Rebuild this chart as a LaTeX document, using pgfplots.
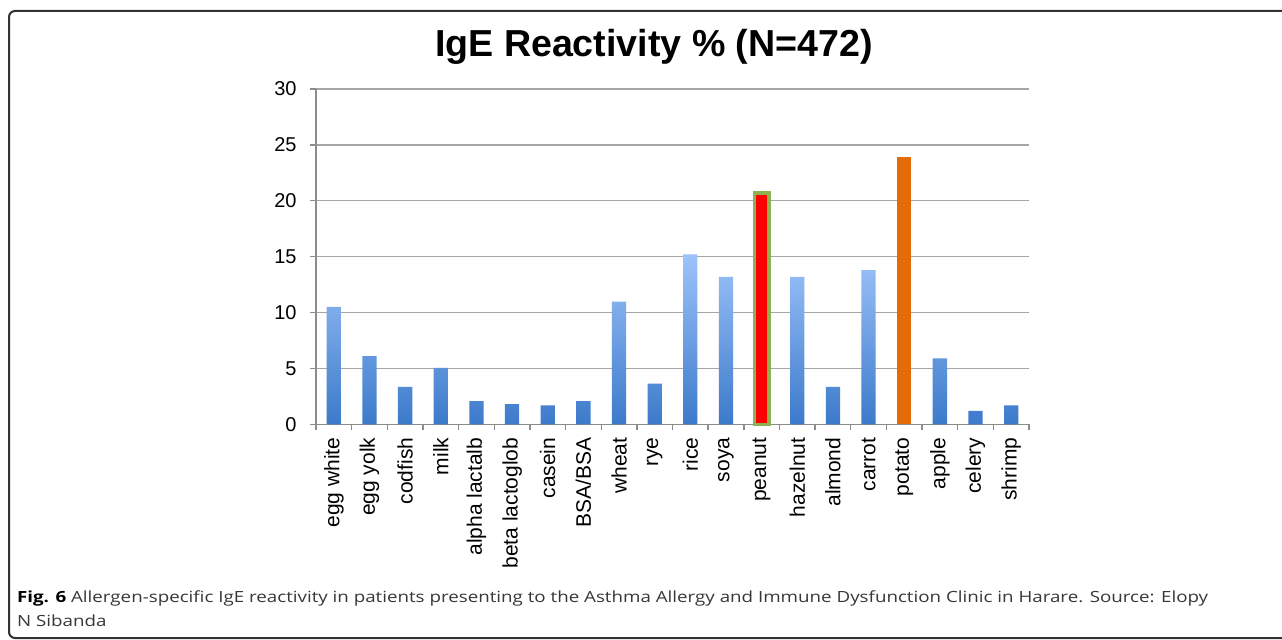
\documentclass[border=0pt]{standalone}
\usepackage{fontspec}
\setmainfont{Liberation Sans}
\newfontfamily\capfont{Open Sans}
\usepackage{pgfplots}
\pgfplotsset{compat=1.18}
\definecolor{bartop}{RGB}{157,195,250}
\definecolor{barbot}{RGB}{60,122,202}
\definecolor{gridc}{RGB}{166,166,166}
\definecolor{axc}{RGB}{140,140,140}
\definecolor{peanutc}{RGB}{255,0,0}
\definecolor{peanutb}{RGB}{141,178,80}
\definecolor{potatoc}{RGB}{227,108,9}
\definecolor{framec}{RGB}{50,50,50}
\definecolor{capc}{RGB}{55,55,55}
\newlength\capw
\newcommand\captext{\capfont\fontsize{7.7}{9}\selectfont\textbf{\color{black}Fig. 6} Allergen-specific IgE reactivity in patients presenting to the Asthma Allergy and Immune Dysfunction Clinic in Harare. Source: Elopy}
\begin{document}
\settowidth{\capw}{\captext}%
\pgfmathsetmacro{\caps}{595.5/\capw}%
\begin{tikzpicture}
\begin{scope}[x=0.5pt,y=0.5pt]
\useasboundingbox (0,0) rectangle (1282,639);
\fill[white] (0,0) rectangle (1282,639);
\draw[framec, line width=1pt, rounded corners=3pt] (9,1) rectangle (1320,628);
\node[anchor=base, font=\bfseries\fontsize{18.8}{22}\selectfont] at (654,582.3) {IgE Reactivity \% (N=472)};
\node[anchor=base west, inner sep=0pt, text=capc] at (16.7,36.3) {\scalebox{\caps}[1]{\captext}};
\node[anchor=base west, inner sep=0pt, text=capc] at (16.7,12.3) {\scalebox{\caps}[1]{\capfont\fontsize{7.7}{9}\selectfont N Sibanda}};
\end{scope}
\begin{axis}[
  at={(158pt,107.35pt)}, anchor=south west,
  scale only axis, width=356.5pt, height=167.65pt,
  xmin=-0.5, xmax=19.5, ymin=0, ymax=30,
  axis lines*=left,
  axis line style={axc, line width=0.7pt},
  ytick={0,5,...,30},
  xtick={0,...,19},
  xticklabels={egg white,egg yolk,codfish,milk,alpha lactalb,beta lactoglob,casein,BSA/BSA,wheat,rye,rice,soya,peanut,hazelnut,almond,carrot,potato,apple,celery,shrimp},
  minor xtick={-0.5,0.5,...,19.5},
  major x tick style={draw=none},
  minor x tick style={axc, line width=0.7pt},
  major y tick style={axc, line width=0.7pt},
  tick align=outside,
  major tick length=3pt, minor tick length=3pt,
  ymajorgrids, grid style={gridc, line width=0.7pt},
  /pgf/number format/assume math mode=true,
  yticklabel style={font=\fontsize{10}{12}\selectfont, text=black, inner sep=0pt, xshift=-6.5pt},
  xticklabel shift=3.5pt,
  xticklabel style={font=\fontsize{10.5}{12}\selectfont, text=black, rotate=90, anchor=east, inner sep=0pt},
  clip=false,
]
\addplot[ybar, bar width=0.4, bar shift=0pt, draw=none, top color=bartop, bottom color=barbot] coordinates {
 (0,10.5) (1,6.1) (2,3.35) (3,5.05) (4,2.08) (5,1.8) (6,1.7) (7,2.08) (8,10.97) (9,3.64) (10,15.2) (11,13.2) (13,13.2) (14,3.35) (15,13.8) (17,5.9) (18,1.2) (19,1.7)
};
\addplot[ybar, bar width=0.4, bar shift=0pt, fill=peanutc, draw=peanutb, line width=1.8pt] coordinates {(12,20.7)};
\addplot[ybar, bar width=0.4, bar shift=0pt, fill=potatoc, draw=none] coordinates {(16,23.9)};
\end{axis}
\end{tikzpicture}
\end{document}
